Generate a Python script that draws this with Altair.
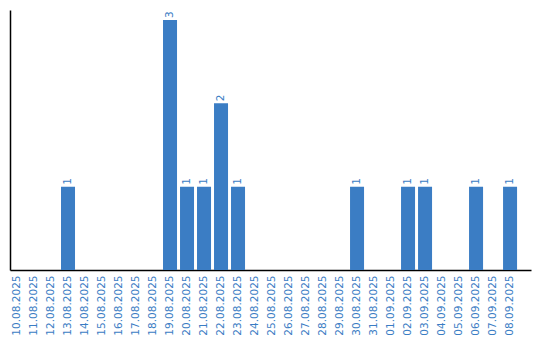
import altair as alt
import pandas as pd

dates = ["10.08.2025", "11.08.2025", "12.08.2025", "13.08.2025", "14.08.2025",
         "15.08.2025", "16.08.2025", "17.08.2025", "18.08.2025", "19.08.2025",
         "20.08.2025", "21.08.2025", "22.08.2025", "23.08.2025", "24.08.2025",
         "25.08.2025", "26.08.2025", "27.08.2025", "28.08.2025", "29.08.2025",
         "30.08.2025", "31.08.2025", "01.09.2025", "02.09.2025", "03.09.2025",
         "04.09.2025", "05.09.2025", "06.09.2025", "07.09.2025", "08.09.2025"]
counts = [0, 0, 0, 1, 0,
          0, 0, 0, 0, 3,
          1, 1, 2, 1, 0,
          0, 0, 0, 0, 0,
          1, 0, 0, 1, 1,
          0, 0, 1, 0, 1]

df = pd.DataFrame({"date": dates, "count": counts})
BLUE = "#3b7dc4"
FONT = "DejaVu Sans"

xscale = alt.Scale(domain=dates, paddingInner=0.176, paddingOuter=0.41, align=0)
yscale = alt.Scale(domain=[0, 3.12], nice=False, zero=True)

base = alt.Chart(df)

bars = base.mark_bar(color=BLUE).encode(
    x=alt.X("date:N", sort=dates, scale=xscale,
            axis=alt.Axis(title=None, labelAngle=270, ticks=False, labelPadding=5,
                          labelColor=BLUE, labelFont=FONT, labelFontSize=10.5,
                          domainColor="#000000", domainWidth=1.5, grid=False)),
    y=alt.Y("count:Q", scale=yscale,
            axis=alt.Axis(title=None, labels=False, ticks=False, grid=False,
                          domainColor="#000000", domainWidth=1.5)),
)

text = base.transform_filter("datum.count > 0").mark_text(
    angle=270, align="left", baseline="middle", dx=2,
    color=BLUE, font=FONT, fontSize=10.5,
).encode(
    x=alt.X("date:N", sort=dates, scale=xscale),
    y=alt.Y("count:Q", scale=yscale),
    text=alt.Text("count:Q"),
)

chart = (bars + text).properties(
    width=521, height=260,
    background="#ffffff",
    autosize=alt.AutoSizeParams(type="none"),
    padding={"left": 10, "top": 10, "right": 9, "bottom": 70},
).configure_view(stroke=None, strokeWidth=0)

chart.save("out.html", embed_options={"renderer": "svg", "actions": False})
